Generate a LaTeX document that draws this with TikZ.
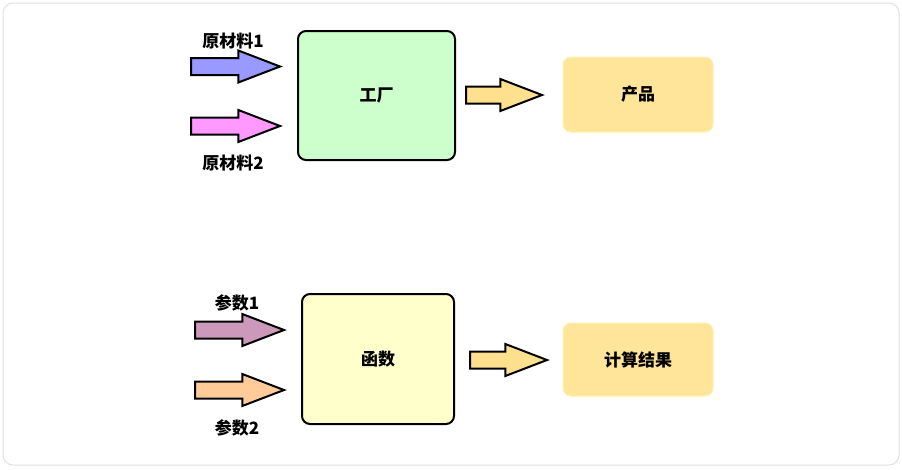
\documentclass[tikz,border=0pt]{standalone}
\usepackage{fontspec}
\setmainfont{Noto Sans CJK SC}
\usetikzlibrary{shapes.arrows,positioning}
\definecolor{frame}{HTML}{E0E0E0}
\definecolor{factory}{HTML}{CCFFCC}
\definecolor{func}{HTML}{FFFFCC}
\definecolor{result}{HTML}{FFE599}
\definecolor{resultedge}{HTML}{FFF0B0}
\definecolor{matA}{HTML}{9999FF}
\definecolor{matB}{HTML}{FF99FF}
\definecolor{parA}{HTML}{CC99BB}
\definecolor{parB}{HTML}{FFCC99}
\definecolor{outarr}{HTML}{FFE08F}

\begin{document}
\begin{tikzpicture}[
  x=1pt,y=-1pt,
  font=\fontsize{17}{20}\selectfont\bfseries,
  box/.style={draw=black, line width=2pt, rounded corners=8pt, align=center},
  res/.style={draw=resultedge, line width=1pt, fill=result, rounded corners=8pt,
    minimum width=150pt, align=center},
  blk/.style={single arrow, draw=black, line width=2pt, inner xsep=0pt, inner ysep=7.5pt,
    single arrow head extend=7.5pt, single arrow tip angle=42, minimum height=89pt,
    anchor=tail},
  lbl/.style={inner sep=0pt},
]
\useasboundingbox (0,0) rectangle (902,469);
\draw[frame, line width=1pt, rounded corners=10pt] (3,3) rectangle (899,465);

% factory (top)
\node[box, fill=factory, minimum width=157pt, minimum height=129pt] (fab) at (376.5,95.5) {工厂};
\node[res, minimum height=75pt] (prod) at (638,94.5) {产品};
\node[blk, fill=matA] (in1) at (190,66.5) {};
\node[blk, fill=matB] (in2) at (190,126) {};
\node[blk, fill=outarr, minimum height=76pt] (out1) at (465,95) {};
\node[lbl] (m1) at (233,41) {原材料1};
\node[lbl] (m2) at (233,163) {原材料2};

% function (bottom)
\node[box, fill=func, minimum width=152pt, minimum height=130pt] (fn) at (378,359) {函数};
\node[res, minimum height=73pt] (calc) at (638,359.5) {计算结果};
\node[blk, fill=parA] (arg1) at (194,330) {};
\node[blk, fill=parB] (arg2) at (194,390) {};
\node[blk, fill=outarr, minimum height=77pt] (out2) at (469,360) {};
\node[lbl] (p1) at (237,303) {参数1};
\node[lbl] (p2) at (237,428) {参数2};
\end{tikzpicture}
\end{document}
